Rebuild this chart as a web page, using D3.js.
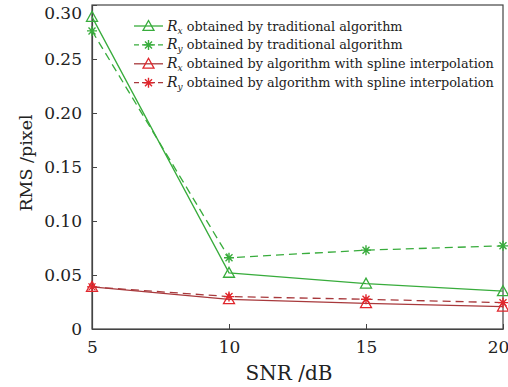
<!DOCTYPE html>
<html>
<head>
<meta charset="utf-8">
<script src="https://cdn.jsdelivr.net/npm/d3@7"></script>
<style>
  body { margin: 0; background: #fff; }
</style>
</head>
<body>
<div id="chart"></div>
<script>
// data
var snr = [5, 10, 15, 20];
var rxTraditional = [0.289, 0.052, 0.042, 0.035];
var ryTraditional = [0.276, 0.066, 0.073, 0.077];
var rxSpline = [0.039, 0.0275, 0.0238, 0.0207];
var rySpline = [0.039, 0.030, 0.0275, 0.0244];
var yTicks = [0, 0.05, 0.10, 0.15, 0.20, 0.25, 0.30];
var xTicks = [5, 10, 15, 20];

var serif = "DejaVu Serif";
var green = "#38ac3c";
var redLine = "#a8393c";
var redMark = "#e0262c";

var series = [
    {sub: "x", text: " obtained by traditional algorithm", values: rxTraditional, line: green, mark: green, dash: null, marker: "tri"},
    {sub: "y", text: " obtained by traditional algorithm", values: ryTraditional, line: green, mark: green, dash: "8,5", marker: "star"},
    {sub: "x", text: " obtained by algorithm with spline interpolation", values: rxSpline, line: redLine, mark: redMark, dash: null, marker: "tri"},
    {sub: "y", text: " obtained by algorithm with spline interpolation", values: rySpline, line: redLine, mark: redMark, dash: "8,5", marker: "star"}
];

var width = 508, height = 387;
var margin = {top: 5, right: 5, bottom: 58, left: 92};
var chartWidth = width - margin.left - margin.right;
var chartHeight = height - margin.top - margin.bottom;

var svg = d3.select("#chart").append("svg")
    .attr("width", width)
    .attr("height", height)
    .attr("font-family", serif);

var chartGroup = svg.append("g")
    .attr("transform", `translate(${margin.left}, ${margin.top})`);

var xScale = d3.scaleLinear().domain([5, 20]).range([0, chartWidth]);
var yScale = d3.scaleLinear().domain([0, 0.30]).range([chartHeight, 0]);

// frame
chartGroup.append("rect")
    .attr("width", chartWidth)
    .attr("height", chartHeight)
    .attr("fill", "none")
    .attr("stroke", "#444")
    .attr("stroke-width", 1.2);

// axes with inward ticks
var xAxis = d3.axisBottom(xScale).tickValues(xTicks).tickSizeInner(-5).tickSizeOuter(0).tickPadding(12)
    .tickFormat(d3.format("d"));
var yAxis = d3.axisLeft(yScale).tickValues(yTicks).tickSizeInner(-5).tickSizeOuter(0).tickPadding(10)
    .tickFormat(d => d === 0 ? "0" : d3.format(".2f")(d));

var gx = chartGroup.append("g")
    .attr("transform", `translate(0, ${chartHeight})`)
    .call(xAxis);
var gy = chartGroup.append("g").call(yAxis);

[gx, gy].forEach(function (g) {
    g.attr("font-family", serif).attr("font-size", 17);
    g.select(".domain").attr("stroke", "#444").attr("stroke-width", 1.2);
    g.selectAll(".tick line").attr("stroke", "#444");
    g.selectAll(".tick text").attr("fill", "#222");
});
// keep the end labels inside the picture
gy.selectAll(".tick text").filter(d => d === 0.30).attr("dy", "0.8em");
gx.selectAll(".tick text").filter(d => d === 20).attr("dx", -5);

// axis titles
svg.append("text")
    .attr("x", 289)
    .attr("y", 380)
    .attr("text-anchor", "middle")
    .attr("font-size", 20)
    .attr("fill", "#222")
    .text("SNR /dB");

svg.append("text")
    .attr("transform", "translate(32, 163) rotate(-90)")
    .attr("text-anchor", "middle")
    .attr("font-size", 17.5)
    .attr("fill", "#222")
    .text("RMS /pixel");

function drawMarker(g, type, color, x, y) {
    if (type === "tri") {
        var s = 5.5;
        g.append("path")
            .attr("d", `M${x},${y - s} L${x + s},${y + s * 0.8} L${x - s},${y + s * 0.8} Z`)
            .attr("fill", "none")
            .attr("stroke", color)
            .attr("stroke-width", 1.3);
    } else {
        var r = 5, d = r * 0.7;
        g.append("path")
            .attr("d", `M${x - r},${y} L${x + r},${y} M${x},${y - r} L${x},${y + r} M${x - d},${y - d} L${x + d},${y + d} M${x - d},${y + d} L${x + d},${y - d}`)
            .attr("stroke", color)
            .attr("stroke-width", 1.4);
    }
}

var line = d3.line()
    .x((d, i) => xScale(snr[i]))
    .y(d => yScale(d));

series.forEach(function (s) {
    chartGroup.append("path")
        .datum(s.values)
        .attr("d", line)
        .attr("fill", "none")
        .attr("stroke", s.line)
        .attr("stroke-width", 1.3)
        .attr("stroke-dasharray", s.dash);
    s.values.forEach(function (v, i) {
        drawMarker(chartGroup, s.marker, s.mark, xScale(snr[i]), yScale(v));
    });
});

// legend
var legend = svg.append("g");
series.forEach(function (s, i) {
    var y = 26 + i * 18.9;
    legend.append("line")
        .attr("x1", 134).attr("x2", 163)
        .attr("y1", y).attr("y2", y)
        .attr("stroke", s.line)
        .attr("stroke-width", 1.3)
        .attr("stroke-dasharray", s.dash ? "5,3" : null);
    drawMarker(legend, s.marker, s.mark, 148.5, y);
    var t = legend.append("text")
        .attr("x", 167)
        .attr("y", y + 4.5)
        .attr("font-size", 12.8)
        .attr("fill", "#222");
    t.append("tspan").attr("font-style", "italic").attr("font-size", 14).text("R");
    t.append("tspan").attr("font-style", "italic").attr("font-size", 9).attr("dy", 3).text(s.sub);
    t.append("tspan").attr("dy", -3).text(s.text);
});
</script>
</body>
</html>
